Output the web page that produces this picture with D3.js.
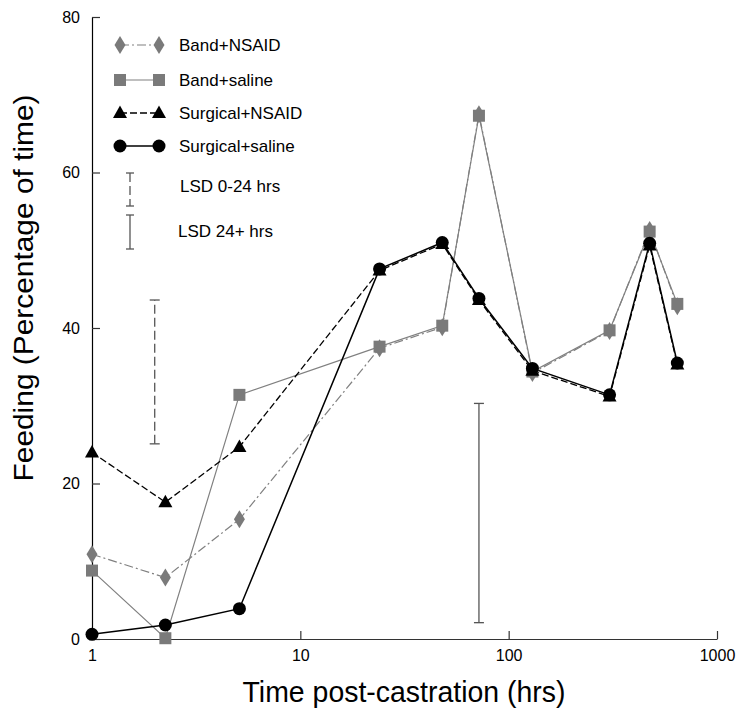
<!DOCTYPE html>
<html>
<head>
<meta charset="utf-8">
<script src="https://cdn.jsdelivr.net/npm/d3@7"></script>
<style>
  html, body { margin: 0; padding: 0; background: #fff; }
  svg { display: block; font-family: "Liberation Sans", Arial, sans-serif; }
</style>
</head>
<body>
<svg id="chart" width="737" height="726"></svg>
<script>
// ---------- data ----------
const times = [1, 2.25, 5.1, 24, 48, 72, 130, 305, 475, 645];
const bandNSAID     = [10.9, 7.9, 15.4, 37.4, 40.1, 67.5, 34.2, 39.6, 52.6, 42.8];
const bandSaline    = [8.8, 0.1, 31.4, 37.6, 40.3, 67.3, 34.4, 39.7, 52.4, 43.1];
const surgNSAID     = [24.0, 17.6, 24.7, 47.4, 50.8, 43.6, 34.5, 31.2, 50.6, 35.3];
const surgSaline    = [0.6, 1.8, 3.9, 47.6, 51.0, 43.8, 34.8, 31.4, 50.9, 35.5];
const seriesNames   = ["Band+NSAID", "Band+saline", "Surgical+NSAID", "Surgical+saline"];
const lsdNames      = ["LSD 0-24 hrs", "LSD 24+ hrs"];
const lsdTimes      = [2, 72];
const lsdLow        = [25.1, 2.1];
const lsdHigh       = [43.6, 30.3];
const xTickValues   = [1, 10, 100, 1000];
const yTickValues   = [0, 20, 40, 60, 80];
const xTitle = "Time post-castration (hrs)";
const yTitle = "Feeding (Percentage of time)";

// ---------- styles ----------
const GRAY = "#7a7a7a";
const styles = [
  { values: bandNSAID,  color: GRAY,   lineColor: "#808080", dash: "9,3,2,3", width: 1.2, shape: "diamond" },
  { values: bandSaline, color: GRAY,   lineColor: "#808080", dash: null,      width: 1.2, shape: "square" },
  { values: surgNSAID,  color: "#000", lineColor: "#000",    dash: "7,3",     width: 1.3, shape: "triangle" },
  { values: surgSaline, color: "#000", lineColor: "#000",    dash: null,      width: 1.5, shape: "circle" }
];

const svg = d3.select("#chart");
const x = d3.scaleLog().domain([1, 1000]).range([92, 717]);
const y = d3.scaleLinear().domain([0, 80]).range([639, 17]);

function markerPath(shape) {
  const p = d3.path();
  if (shape === "diamond") {
    p.moveTo(0, -9); p.lineTo(5.5, 0); p.lineTo(0, 9); p.lineTo(-5.5, 0); p.closePath();
  } else if (shape === "square") {
    p.rect(-6, -6, 12, 12);
  } else if (shape === "triangle") {
    p.moveTo(0, -7.5); p.lineTo(7, 5); p.lineTo(-7, 5); p.closePath();
  } else {
    p.arc(0, 0, 6.5, 0, 2 * Math.PI);
  }
  return p.toString();
}

// ---------- axes ----------
const xAxis = d3.axisBottom(x).tickValues(xTickValues).tickFormat(d3.format("d"))
  .tickSizeInner(-8).tickSizeOuter(0).tickPadding(12);
const gx = svg.append("g").attr("transform", "translate(0,639)").call(xAxis);
gx.select(".domain").attr("stroke", "#333").attr("stroke-width", 1.2);
gx.selectAll(".tick line").attr("stroke", "#333").attr("stroke-width", 1.2);
gx.selectAll(".tick text").attr("font-size", 16).attr("fill", "#000")
  .attr("font-family", "Liberation Sans, Arial, sans-serif").attr("dy", "0.71em").attr("y", 11);

const yAxis = d3.axisLeft(y).tickValues(yTickValues)
  .tickSizeInner(-8).tickSizeOuter(0).tickPadding(12);
const gy = svg.append("g").attr("transform", "translate(92,0)").call(yAxis);
gy.select(".domain").attr("stroke", "#000").attr("stroke-width", 1.2);
gy.selectAll(".tick line").attr("stroke", "#333").attr("stroke-width", 1.2);
gy.selectAll(".tick text").attr("font-size", 16).attr("fill", "#000")
  .attr("font-family", "Liberation Sans, Arial, sans-serif");

// titles
svg.append("text").attr("x", 404).attr("y", 702).attr("text-anchor", "middle")
  .attr("font-size", 29).attr("fill", "#000")
  .attr("textLength", 323).attr("lengthAdjust", "spacingAndGlyphs").text(xTitle);
svg.append("text").attr("transform", "translate(33,288) rotate(-90)").attr("text-anchor", "middle")
  .attr("font-size", 28).attr("fill", "#000")
  .attr("textLength", 387).attr("lengthAdjust", "spacingAndGlyphs").text(yTitle);

// ---------- LSD bars ----------
lsdTimes.forEach((t, i) => {
  const g = svg.append("g").attr("stroke", "#555").attr("stroke-width", 1.3);
  const cx = x(t);
  g.append("line").attr("x1", cx).attr("x2", cx).attr("y1", y(lsdLow[i])).attr("y2", y(lsdHigh[i]))
    .attr("stroke-dasharray", i === 0 ? "9,4" : null);
  g.append("line").attr("x1", cx - 5).attr("x2", cx + 5).attr("y1", y(lsdLow[i])).attr("y2", y(lsdLow[i]));
  g.append("line").attr("x1", cx - 5).attr("x2", cx + 5).attr("y1", y(lsdHigh[i])).attr("y2", y(lsdHigh[i]));
});

// ---------- lines ----------
const line = d3.line().x((d, i) => x(times[i])).y(d => y(d));
styles.forEach(s => {
  svg.append("path").datum(s.values).attr("d", line)
    .attr("fill", "none").attr("stroke", s.lineColor).attr("stroke-width", s.width)
    .attr("stroke-dasharray", s.dash);
});
// ---------- markers ----------
styles.forEach(s => {
  svg.append("g").selectAll("path").data(s.values).join("path")
    .attr("d", markerPath(s.shape))
    .attr("transform", (d, i) => `translate(${x(times[i])},${y(d)})`)
    .attr("fill", s.color);
});

// ---------- legend ----------
const legY = [45, 80, 113, 146];
styles.forEach((s, i) => {
  const g = svg.append("g").attr("transform", `translate(0,${legY[i]})`);
  g.append("line").attr("x1", 120).attr("x2", 159).attr("y1", 0).attr("y2", 0)
    .attr("stroke", s.lineColor).attr("stroke-width", s.width).attr("stroke-dasharray", s.dash);
  [120, 159].forEach(px => g.append("path").attr("d", markerPath(s.shape))
    .attr("transform", `translate(${px},0)`).attr("fill", s.color));
  g.append("text").attr("x", 179).attr("y", 0).attr("dy", "0.35em").attr("font-size", 17)
    .attr("fill", "#000").text(seriesNames[i]);
});
// LSD legend
[[173, 206, "9,4", 186, 180], [215, 249, null, 231, 178]].forEach((L, i) => {
  const g = svg.append("g").attr("stroke", "#555").attr("stroke-width", 1.3);
  g.append("line").attr("x1", 130).attr("x2", 130).attr("y1", L[0]).attr("y2", L[1]).attr("stroke-dasharray", L[2]);
  g.append("line").attr("x1", 126).attr("x2", 134).attr("y1", L[0]).attr("y2", L[0]);
  g.append("line").attr("x1", 126).attr("x2", 134).attr("y1", L[1]).attr("y2", L[1]);
  svg.append("text").attr("x", L[4]).attr("y", L[3]).attr("dy", "0.35em").attr("font-size", 17)
    .attr("fill", "#000").text(lsdNames[i]);
});
</script>
</body>
</html>
